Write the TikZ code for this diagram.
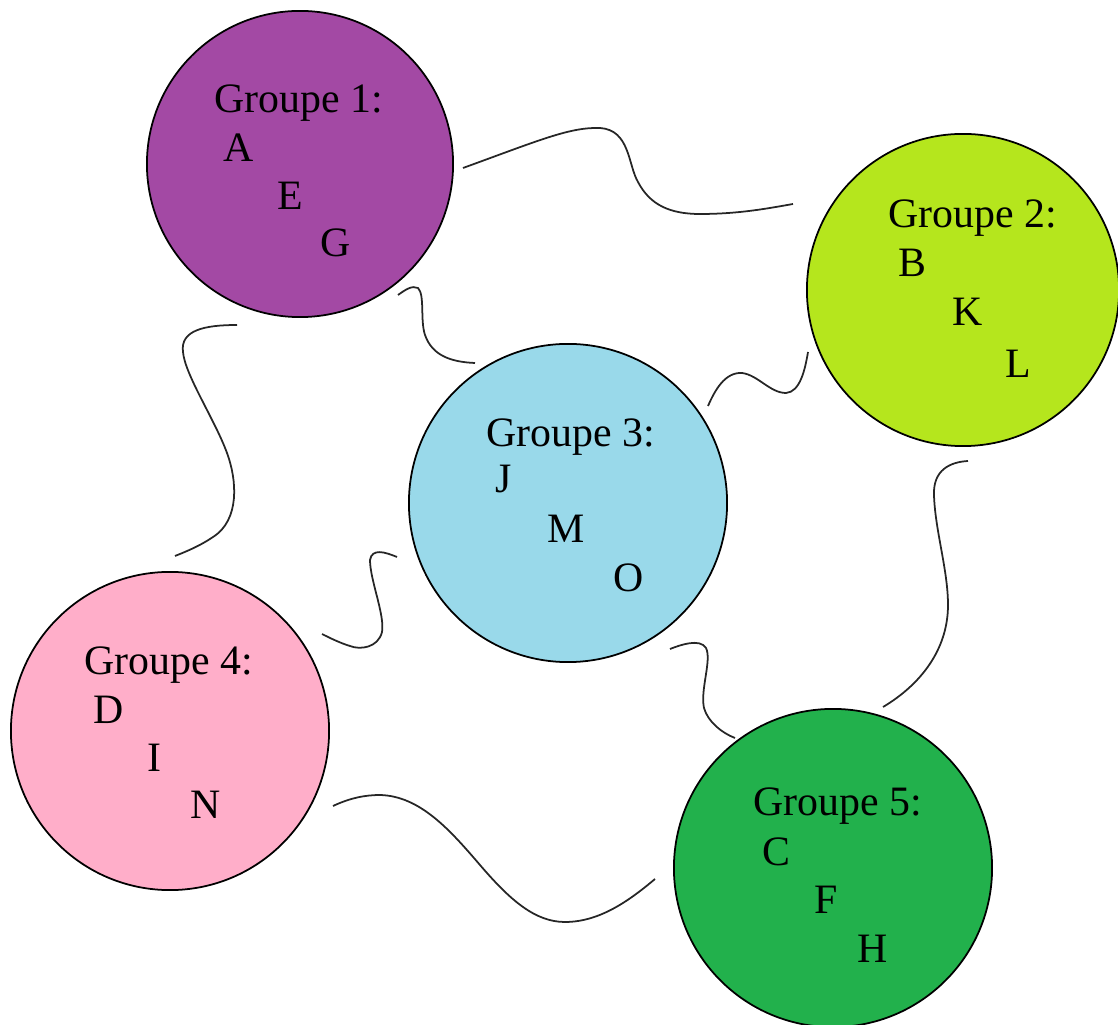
\documentclass[tikz,border=0pt]{standalone}
\usepackage{fontspec}
\setmainfont{Liberation Serif}
\usepackage{tikz}
\usetikzlibrary{positioning}
\definecolor{grpone}{HTML}{A349A4}
\definecolor{grptwo}{HTML}{B5E61D}
\definecolor{grpthree}{HTML}{99D9EA}
\definecolor{grpfour}{HTML}{FFAEC9}
\definecolor{grpfive}{HTML}{22B14C}
\tikzset{groupcircle/.style={draw,circle,line width=0.5pt,inner sep=0,minimum size=3.18cm},
    grouptitle/.style={anchor=base west,inner sep=0,font=\fontsize{11.9}{14}\selectfont},
    member/.style={anchor=base west,inner sep=0,font=\fontsize{11.9}{14}\selectfont},
    wiggle/.style={line width=0.5pt,black!85}
}
\newcommand{\groupletters}[2]
{
% args: (group name, list of letter/x/y)
    \foreach \l/\x/\y in {#2}
        \node [member] (#1\l) at (\x,\y) {\l};
}

\begin{document}
\begin{tikzpicture}[x=0.01cm,y=-0.01cm]
\useasboundingbox (0,0) rectangle (1118,1025);

\node (grp1) at (300,164) [groupcircle,fill=grpone,minimum size=3.06cm] {};
\node (grp2) at (963,290) [groupcircle,fill=grptwo,minimum size=3.12cm] {};
\node (grp3) at (568,503) [groupcircle,fill=grpthree] {};
\node (grp4) at (170,731) [groupcircle,fill=grpfour] {};
\node (grp5) at (833,868) [groupcircle,fill=grpfive] {};

\node (title1) at (214,113) [grouptitle] {Groupe 1:};
\node (title2) at (888,228) [grouptitle] {Groupe 2:};
\node (title3) at (486,447) [grouptitle] {Groupe 3:};
\node (title4) at (84,675) [grouptitle] {Groupe 4:};
\node (title5) at (753,816) [grouptitle] {Groupe 5:};

\groupletters{g1}{A/223/162,E/277/210,G/320/257}
\groupletters{g2}{B/898/277,K/952/326,L/1005/378}
\groupletters{g3}{J/495/493,M/547/543,O/613/592}
\groupletters{g4}{D/93/724,I/147/772,N/190/819}
\groupletters{g5}{C/762/865,F/814/913,H/857/962}

% links
\coordinate (l12a) at (463,168);
\coordinate (l12b) at (793,204);
\coordinate (l13a) at (398,295);
\coordinate (l13b) at (475,363);
\coordinate (l14a) at (237,325);
\coordinate (l14b) at (175,556);
\coordinate (l34a) at (397,557);
\coordinate (l34b) at (322,634);
\coordinate (l32a) at (708,406);
\coordinate (l32b) at (808,352);
\coordinate (l25a) at (968,461);
\coordinate (l25b) at (883,707);
\coordinate (l35a) at (670,649);
\coordinate (l35b) at (735,738);
\coordinate (l45a) at (333,806);
\coordinate (l45b) at (655,879);

\draw [wiggle] (l12a) .. controls (540,140) and (570,127) .. (600,128)
    .. controls (630,130) and (628,165) .. (638,182)
    .. controls (650,205) and (670,214) .. (700,214)
    .. controls (740,214) and (770,208) .. (l12b);
\draw [wiggle] (l13a) .. controls (405,290) and (412,285) .. (418,288)
    .. controls (425,295) and (420,320) .. (425,335)
    .. controls (432,355) and (450,362) .. (l13b);
\draw [wiggle] (l14a) .. controls (205,325) and (180,330) .. (183,352)
    .. controls (185,375) and (215,420) .. (227,453)
    .. controls (237,480) and (240,520) .. (213,537)
    .. controls (200,546) and (185,552) .. (l14b);
\draw [wiggle] (l34a) .. controls (385,552) and (372,548) .. (370,560)
    .. controls (370,580) and (385,615) .. (382,632)
    .. controls (378,648) and (360,650) .. (350,646)
    .. controls (340,643) and (330,638) .. (l34b);
\draw [wiggle] (l32a) .. controls (715,390) and (725,372) .. (742,373)
    .. controls (758,375) and (770,393) .. (786,393)
    .. controls (800,392) and (805,370) .. (l32b);
\draw [wiggle] (l25a) .. controls (950,462) and (933,470) .. (934,495)
    .. controls (935,530) and (948,570) .. (948,605)
    .. controls (948,650) and (920,685) .. (l25b);
\draw [wiggle] (l35a) .. controls (680,645) and (700,638) .. (706,648)
    .. controls (712,660) and (700,690) .. (704,708)
    .. controls (708,722) and (722,733) .. (l35b);
\draw [wiggle] (l45a) .. controls (350,798) and (365,795) .. (380,795)
    .. controls (420,796) and (450,830) .. (480,865)
    .. controls (510,900) and (535,922) .. (565,922)
    .. controls (600,922) and (630,900) .. (l45b);

\end{tikzpicture}
\end{document}
